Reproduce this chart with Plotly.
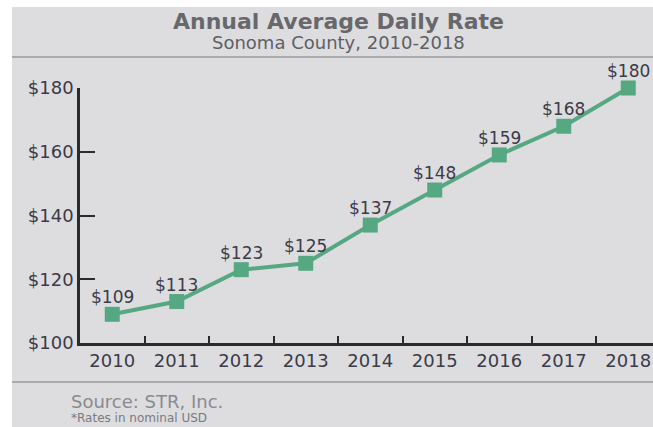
import plotly.graph_objects as go

years = ["2010", "2011", "2012", "2013", "2014", "2015", "2016", "2017", "2018"]
adr = [109, 113, 123, 125, 137, 148, 159, 168, 180]
labels = ["$" + str(v) for v in adr]
y_ticks = [100, 120, 140, 160, 180]
y_tick_text = ["$" + str(v) for v in y_ticks]

W, H = 653, 427
L, R, T, B = 80, 0, 88, 84   # plot area in pixels
GREEN = "#55a882"
DARK = "#3b3b48"
FONT = "DejaVu Sans"


def px(x):
    return (x - L) / (W - L - R)


def py(y):
    return (H - B - y) / (H - T - B)


fig = go.Figure()

fig.add_trace(go.Scatter(
    x=years, y=adr,
    mode="lines+markers",
    line=dict(color=GREEN, width=4),
    marker=dict(symbol="square", size=15, color=GREEN),
    cliponaxis=False,
    hoverinfo="x+y",
))

# value labels above the markers (category index on x)
for i, (v, lab) in enumerate(zip(adr, labels)):
    fig.add_annotation(x=i, y=v, text=lab, showarrow=False, yshift=17,
                       xanchor="center", yanchor="middle",
                       font=dict(family=FONT, size=17, color=DARK))

# Gray panel and separator lines
fig.add_shape(type="rect", xref="paper", yref="paper",
              x0=px(12), x1=px(W), y0=py(7), y1=py(H),
              fillcolor="#dddde0", line_width=0, layer="below")
for yy in (57, 382):
    fig.add_shape(type="line", xref="paper", yref="paper",
                  x0=px(12), x1=px(W), y0=py(yy), y1=py(yy),
                  line=dict(color="#9a9a9e", width=1.5))

fig.add_annotation(text="<b>Annual Average Daily Rate</b>", xref="paper", yref="paper",
                   x=px(338), y=py(21), showarrow=False, xanchor="center", yanchor="middle",
                   font=dict(family=FONT, size=22, color="#68686c"))
fig.add_annotation(text="Sonoma County, 2010-2018", xref="paper", yref="paper",
                   x=px(338), y=py(43), showarrow=False, xanchor="center", yanchor="middle",
                   font=dict(family=FONT, size=18, color="#5f5f64"))
fig.add_annotation(text="Source: STR, Inc.", xref="paper", yref="paper",
                   x=px(69), y=py(401), xanchor="left", yanchor="middle", showarrow=False,
                   font=dict(family=FONT, size=18, color="#8a8a8e"))
fig.add_annotation(text="*Rates in nominal USD", xref="paper", yref="paper",
                   x=px(69), y=py(418), xanchor="left", yanchor="middle", showarrow=False,
                   font=dict(family=FONT, size=12, color="#7a7a7e"))

fig.update_xaxes(
    type="category", range=[-0.5, -0.5 + (W - L - R) / 64.5],
    tickson="boundaries", ticks="inside", ticklen=7, tickwidth=2, tickcolor="#2b2b2b",
    showline=True, linecolor="#2b2b2b", linewidth=2.5,
    showgrid=False, zeroline=False,
    tickfont=dict(family=FONT, size=18, color=DARK),
)
fig.update_yaxes(
    range=[100, 180], tickvals=y_ticks, ticktext=y_tick_text,
    ticks="inside", ticklen=15, tickwidth=2, tickcolor="#2b2b2b",
    showline=True, linecolor="#2b2b2b", linewidth=2.5,
    showgrid=False, zeroline=False,
    tickfont=dict(family=FONT, size=18, color=DARK),
)

fig.update_layout(
    width=W, height=H,
    margin=dict(l=L, r=R, t=T, b=B),
    paper_bgcolor="white", plot_bgcolor="rgba(0,0,0,0)",
    showlegend=False,
)

# page has default body margin; remove it so the figure fills the window
fig.write_html("out.html", config={"displayModeBar": False},
               post_script="document.body.style.margin='0';")
